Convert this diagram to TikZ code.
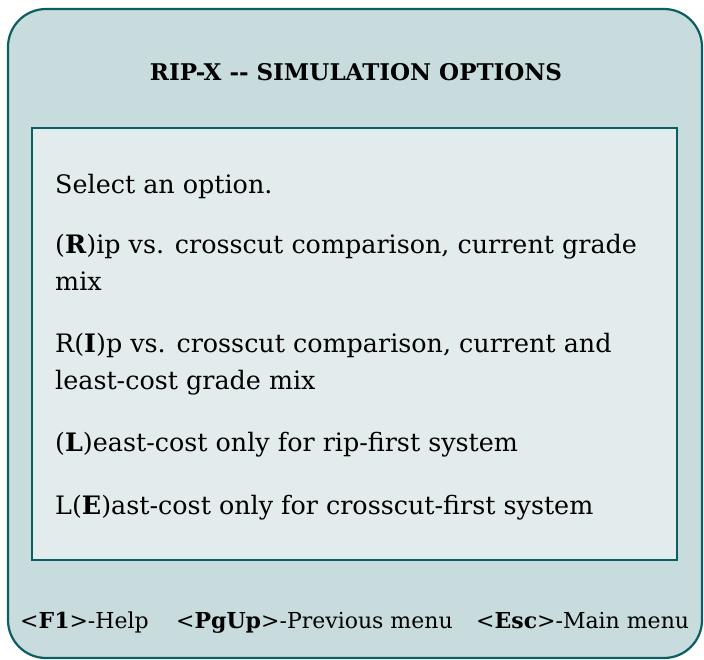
\documentclass[tikz,border=0pt]{standalone}
\usepackage{fontspec}
\setmainfont{DejaVu Serif}
\usetikzlibrary{positioning}
\definecolor{screenfill}{HTML}{C8DCDD}
\definecolor{panelfill}{HTML}{E3ECEC}
\definecolor{frameline}{HTML}{0B5E61}
\tikzset{
    menu/.style={
        screen/.append style={draw=frameline,line width=2.2pt,fill=screenfill,rounded corners=38pt},
        panel/.append style={draw=frameline,line width=2pt,fill=panelfill},
        title/.append style={anchor=base,inner sep=0pt,font=\fontsize{23}{28}\selectfont\bfseries},
        opt/.append style={anchor=base west,inner sep=0pt,font=\fontsize{25.4}{30}\selectfont},
        keyhint/.append style={anchor=base west,inner sep=0pt,font=\fontsize{22}{26}\selectfont}
    }
}
\newcommand{\hot}[1]{\textbf{#1}}

\begin{document}
\begin{tikzpicture}[menu,x=1pt,y=-1pt]
    \useasboundingbox (0,0) rectangle (704,659);
    \draw[screen] (8,9) rectangle (702,658);
    \draw[panel] (32,128) rectangle (677,560);

    \node[title] (head) at (356,80) {RIP-X -{}- SIMULATION OPTIONS};

    \node[opt] (sel) at (55,193) {Select an option.};
    \node[opt] (rip) at (55,253) {(\hot{R})ip vs. crosscut comparison, current grade};
    \node[opt] (rip2) at (55,290) {mix};
    \node[opt] (rIp) at (55,352) {R(\hot{I})p vs. crosscut comparison, current and};
    \node[opt] (rIp2) at (55,389) {least-cost grade mix};
    \node[opt] (lst) at (55,451) {(\hot{L})east-cost only for rip-first system};
    \node[opt] (lEst) at (55,514) {L(\hot{E})ast-cost only for crosscut-first system};

    \node[keyhint] (help) at (20,628) {<\hot{F1}>-Help};
    \node[keyhint] (prev) at (176,628) {<\hot{PgUp}>-Previous menu};
    \node[keyhint] (main) at (476,628) {<\hot{Esc}>-Main menu};
\end{tikzpicture}
\end{document}
